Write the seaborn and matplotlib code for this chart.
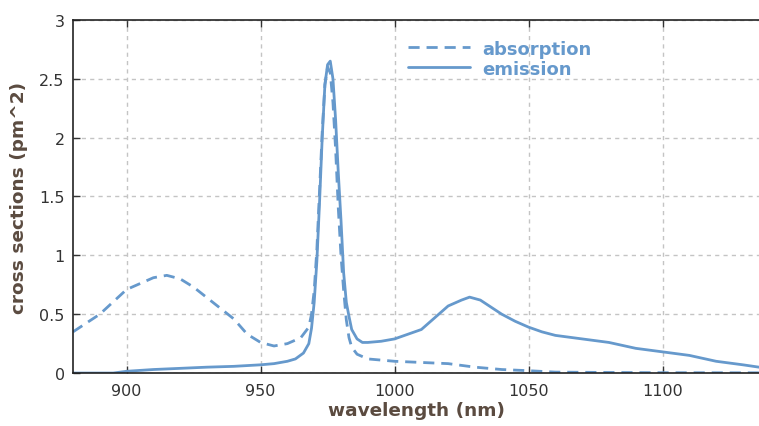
import matplotlib
matplotlib.use('Agg')
import matplotlib.pyplot as plt
import seaborn as sns
import pandas as pd

# absorption cross section (pm^2) vs wavelength (nm)
abs_wl = [880, 890, 900, 905, 910, 915, 920, 925, 930, 935, 940, 945, 950, 955, 960, 965,
          968, 969, 970, 971, 972, 973, 974, 975, 976, 977, 978, 979, 980, 981, 982, 983, 984,
          986, 990, 1000, 1010, 1020, 1030, 1040, 1050, 1060, 1080, 1100, 1136]
abs_cs = [0.35, 0.50, 0.71, 0.76, 0.81, 0.83, 0.80, 0.73, 0.64, 0.55, 0.46, 0.33, 0.26, 0.23, 0.25, 0.30,
          0.39, 0.50, 0.70, 1.05, 1.55, 2.05, 2.45, 2.60, 2.55, 2.30, 1.90, 1.40, 1.00, 0.70, 0.45, 0.30, 0.22,
          0.16, 0.12, 0.10, 0.09, 0.08, 0.05, 0.03, 0.02, 0.008, 0.005, 0.003, 0.002]

# emission cross section (pm^2) vs wavelength (nm)
em_wl = [880, 895, 900, 910, 920, 930, 940, 950, 955, 960, 963, 966, 968, 969, 970, 971, 972, 973, 974,
         975, 976, 977, 978, 979, 980, 981, 982, 983, 984, 986, 988, 990, 995, 1000, 1005, 1010,
         1015, 1020, 1025, 1028, 1032, 1036, 1040, 1045, 1050, 1055, 1060, 1070, 1080, 1090,
         1100, 1110, 1120, 1130, 1136]
em_cs = [0.0, 0.0, 0.015, 0.03, 0.04, 0.05, 0.057, 0.07, 0.08, 0.10, 0.12, 0.17, 0.25, 0.38, 0.60, 0.95, 1.45,
         2.00, 2.45, 2.62, 2.65, 2.50, 2.15, 1.70, 1.30, 0.85, 0.60, 0.48, 0.37, 0.29, 0.26, 0.26,
         0.27, 0.29, 0.33, 0.37, 0.47, 0.57, 0.62, 0.645, 0.62, 0.56, 0.50, 0.44, 0.39, 0.35, 0.32,
         0.29, 0.26, 0.21, 0.18, 0.15, 0.10, 0.07, 0.05]

line_color = '#6699cc'
label_color = '#5b4b40'

sns.set_style('white')
plt.rcParams['font.family'] = ['DejaVu Sans']

fig = plt.figure(figsize=(7.59, 4.27), dpi=100)
ax = fig.add_axes([0.0962, 0.124, 0.9038, 0.827])

df_abs = pd.DataFrame({'wavelength': abs_wl, 'cs': abs_cs})
df_em = pd.DataFrame({'wavelength': em_wl, 'cs': em_cs})

sns.lineplot(data=df_abs, x='wavelength', y='cs', ax=ax, color=line_color, lw=2,
             linestyle=(0, (4, 2.5)), label='absorption')
sns.lineplot(data=df_em, x='wavelength', y='cs', ax=ax, color=line_color, lw=2,
             label='emission')

ax.set_xlim(880, 1136)
ax.set_ylim(0, 3)
ax.set_xticks([900, 950, 1000, 1050, 1100])
ax.set_yticks([0, 0.5, 1, 1.5, 2, 2.5, 3])
ax.set_yticklabels(['0', '0.5', '1', '1.5', '2', '2.5', '3'])
ax.grid(True, color='#c4c4c4', linestyle=(0, (3, 3)), lw=1)
ax.tick_params(direction='in', length=5, width=1, colors='#333333', labelsize=11.5,
               top=True, bottom=True, left=True)
ax.tick_params(axis='x', pad=7)
ax.tick_params(axis='y', pad=6)
for side in ['left', 'bottom', 'top']:
    ax.spines[side].set_color('#222222')
    ax.spines[side].set_linewidth(1.2)
ax.spines['right'].set_visible(False)

ax.set_xlabel('wavelength (nm)', fontsize=13.3, fontweight='bold', color=label_color, labelpad=2)
ax.set_ylabel('cross sections (pm^2)', fontsize=13.3, fontweight='bold', color=label_color, labelpad=8)

leg = ax.legend(loc='upper left', bbox_to_anchor=(0.465, 0.99), frameon=False, handlelength=3.4,
                handletextpad=0.7, labelspacing=0.1, prop={'weight': 'bold', 'size': 13})
for t in leg.get_texts():
    t.set_color(line_color)

fig.savefig('out.png', dpi=100)
